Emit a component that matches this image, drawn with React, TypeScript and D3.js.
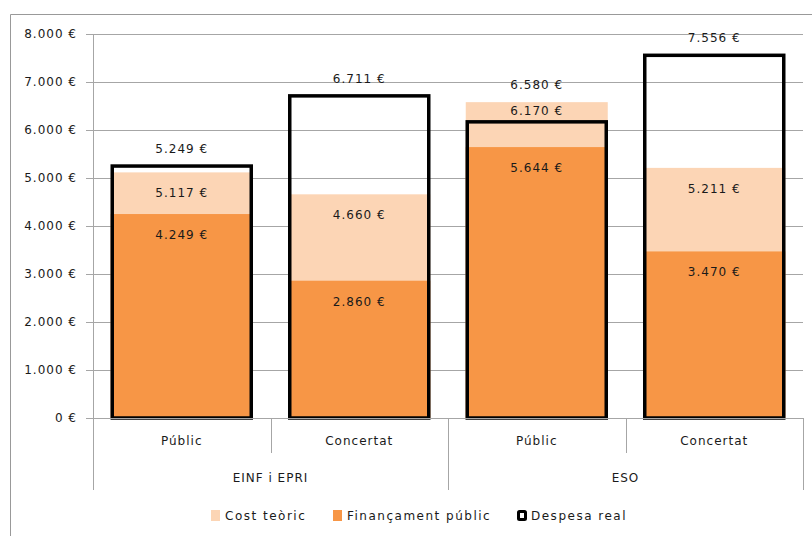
import React from "react";
import * as d3 from "d3";

const categories = ["Públic", "Concertat", "Públic", "Concertat"];
const groups = ["EINF i EPRI", "ESO"];
const costTeoric = [5117, 4660, 6580, 5211];
const financamentPublic = [4249, 2860, 5644, 3470];
const despesaReal = [5249, 6711, 6170, 7556];
const yTicks = [0, 1000, 2000, 3000, 4000, 5000, 6000, 7000, 8000];
const legendItems = ["Cost teòric", "Finançament públic", "Despesa real"];

const W = 812;
const H = 536;
const left = 93;
const right = 803;
const top = 34;
const bottom = 418;

const LIGHT = "#FCD5B5";
const ORANGE = "#F79646";
const GRID = "#a6a6a6";
const TXT = "#1a1a1a";
const FONT = "'DejaVu Sans', Verdana, sans-serif";

const fmt = (v: number) => {
  const s = d3.format(",")(v).replace(/,/g, ".");
  return `${s} €`;
};

export default function App() {
  const y = d3.scaleLinear().domain([0, 8000]).range([bottom, top]);
  const x = d3
    .scaleBand<number>()
    .domain(categories.map((_, i) => i))
    .range([left, right])
    .paddingInner(0.2)
    .paddingOuter(0.1);
  const step = x.step();
  const textStyle: React.CSSProperties = {
    fontFamily: FONT,
    fontSize: 12,
    letterSpacing: 1,
    fill: TXT,
  };
  const legendStyle: React.CSSProperties = { ...textStyle, letterSpacing: 1.5 };

  return (
    <svg
      width={W}
      height={H}
      style={{ position: "absolute", left: 0, top: 0, background: "#fff" }}
    >
      {/* outer frame */}
      <line x1={10.5} y1={14.5} x2={W} y2={14.5} stroke="#999" />
      <line x1={10.5} y1={14.5} x2={10.5} y2={H} stroke="#999" />

      {/* grid and ticks */}
      {yTicks.map((t) => (
        <g key={t}>
          <line
            x1={86}
            x2={right}
            y1={Math.round(y(t)) + 0.5}
            y2={Math.round(y(t)) + 0.5}
            stroke={GRID}
          />
          <text
            x={77}
            y={y(t)}
            textAnchor="end"
            dominantBaseline="central"
            style={textStyle}
          >
            {fmt(t)}
          </text>
        </g>
      ))}
      <line x1={left + 0.5} x2={left + 0.5} y1={top} y2={490} stroke={GRID} />

      {/* bars */}
      {categories.map((_, i) => {
        const x0 = x(i)!;
        const bw = x.bandwidth();
        const yc = y(costTeoric[i]);
        const yf = y(financamentPublic[i]);
        const yr = y(despesaReal[i]);
        return (
          <g key={i}>
            <rect x={x0} y={yc} width={bw} height={bottom - yc} fill={LIGHT} />
            <rect x={x0} y={yf} width={bw} height={bottom - yf} fill={ORANGE} />
            <rect
              x={x0 + 1.5}
              y={yr}
              width={bw - 3}
              height={bottom - yr}
              fill="none"
              stroke="#000"
              strokeWidth={3.5}
            />
          </g>
        );
      })}

      {/* category axis */}
      <line x1={left} x2={right} y1={bottom + 0.5} y2={bottom + 0.5} stroke={GRID} />
      {categories.map((_, i) => {
        const xb = left + step * (i + 1);
        const long = i % 2 === 1;
        return (
          <line
            key={i}
            x1={Math.round(xb) + 0.5}
            x2={Math.round(xb) + 0.5}
            y1={bottom}
            y2={long ? 490 : 453}
            stroke={GRID}
          />
        );
      })}
      {categories.map((c, i) => (
        <text
          key={i}
          x={x(i)! + x.bandwidth() / 2}
          y={441}
          textAnchor="middle"
          dominantBaseline="central"
          style={textStyle}
        >
          {c}
        </text>
      ))}
      {groups.map((g, gi) => (
        <text
          key={g}
          x={left + step * (gi * 2 + 1)}
          y={478}
          textAnchor="middle"
          dominantBaseline="central"
          style={textStyle}
        >
          {g}
        </text>
      ))}

      {/* data labels */}
      {categories.map((_, i) => {
        const c = costTeoric[i];
        const f = financamentPublic[i];
        const r = despesaReal[i];
        const cx = x(i)! + x.bandwidth() / 2;
        const costAbove = c > r;
        const labels = [
          { v: c, yy: costAbove ? y(c) - 17 : y(c) + 21 },
          { v: f, yy: y(f) + 21 },
          { v: r, yy: costAbove ? y(r) - 11 : y(r) - 17 },
        ];
        return (
          <g key={i}>
            {labels.map((l, k) => (
              <text
                key={k}
                x={cx}
                y={l.yy}
                textAnchor="middle"
                dominantBaseline="central"
                style={textStyle}
              >
                {fmt(l.v)}
              </text>
            ))}
          </g>
        );
      })}

      {/* legend */}
      {(() => {
        const pos = [211, 333, 517];
        return legendItems.map((name, i) => (
          <g key={name}>
            {i < 2 ? (
              <rect
                x={pos[i]}
                y={510}
                width={9}
                height={11}
                fill={i === 0 ? LIGHT : ORANGE}
              />
            ) : (
              <rect
                x={pos[i] + 1.5}
                y={511.5}
                width={7}
                height={8}
                fill="#fff"
                stroke="#000"
                strokeWidth={3}
                rx={1}
              />
            )}
            <text
              x={pos[i] + 14}
              y={515.5}
              dominantBaseline="central"
              style={legendStyle}
            >
              {name}
            </text>
          </g>
        ));
      })()}
    </svg>
  );
}
